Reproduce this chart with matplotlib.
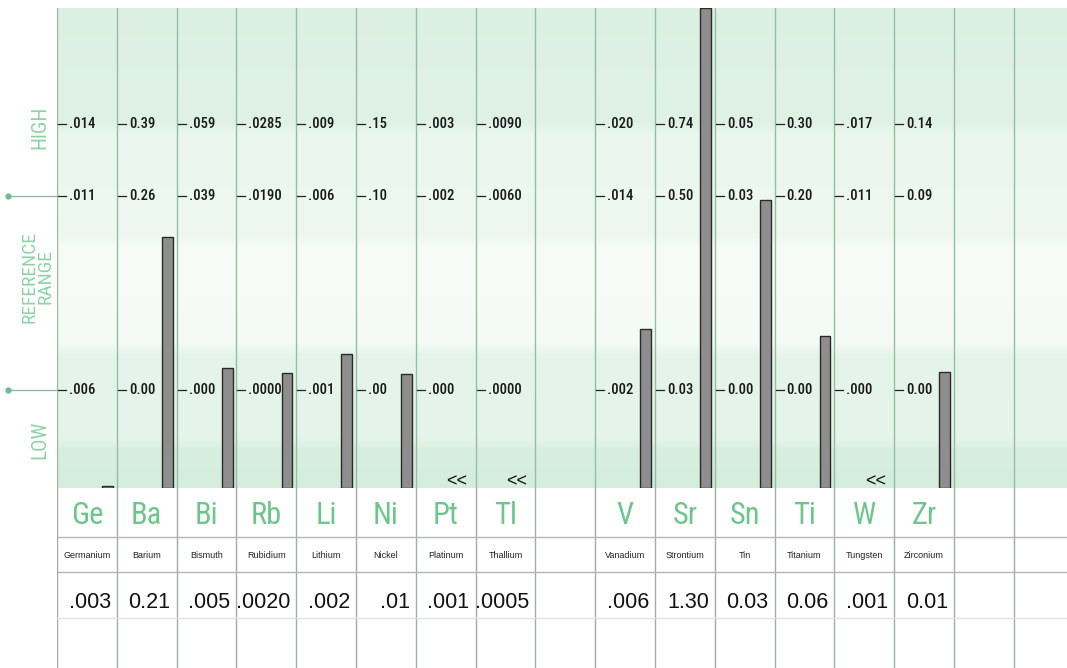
import matplotlib
matplotlib.use("Agg")
import matplotlib.pyplot as plt
from matplotlib import font_manager
from matplotlib.colors import LinearSegmentedColormap
import numpy as np

# element columns (index 8 is an empty column in the report)
symbols = ["Ge", "Ba", "Bi", "Rb", "Li", "Ni", "Pt", "Tl", "", "V", "Sr", "Sn", "Ti", "W", "Zr"]
names = ["Germanium", "Barium", "Bismuth", "Rubidium", "Lithium", "Nickel", "Platinum", "Thallium", "",
         "Vanadium", "Strontium", "Tin", "Titanium", "Tungsten", "Zirconium"]
results = [".003", "0.21", ".005", ".0020", ".002", ".01", ".001", ".0005", "",
           ".006", "1.30", "0.03", "0.06", ".001", "0.01"]
high_lbl = [".014", "0.39", ".059", ".0285", ".009", ".15", ".003", ".0090", "",
            ".020", "0.74", "0.05", "0.30", ".017", "0.14"]
upper_lbl = [".011", "0.26", ".039", ".0190", ".006", ".10", ".002", ".0060", "",
             ".014", "0.50", "0.03", "0.20", ".011", "0.09"]
low_lbl = [".006", "0.00", ".000", ".0000", ".001", ".00", ".000", ".0000", "",
           ".002", "0.03", "0.00", "0.00", ".000", "0.00"]
# bar height on the chart's 0-100 display scale, None = below detection ("<<")
scores = [0.4, 52.3, 25.0, 24.0, 27.9, 23.8, None, None, np.nan,
          33.1, 100, 60.0, 31.7, None, 24.2]

HIGH_Y, UPPER_Y, LOW_Y = 75.8, 60.8, 20.4
n_cols = 16.89  # visible columns incl. blank ones at the right
col_px = 59.8

avail = {f.name for f in font_manager.fontManager.ttflist}
cond = "Roboto Condensed" if "Roboto Condensed" in avail else "DejaVu Sans"
regular = "Liberation Sans" if "Liberation Sans" in avail else "DejaVu Sans"

green_txt = "#6fc48c"
label_green = "#8fd2a6"
vline_c = "#96bda3"

fig = plt.figure(figsize=(10.67, 6.68), dpi=100)
W, H = 1067, 668

ax = fig.add_axes([57 / W, (H - 488) / H, 1010 / W, 480 / H])
tb = fig.add_axes([57 / W, 0, 1010 / W, 180 / H])

# background band
cmap = LinearSegmentedColormap.from_list("bg", [
    (0.0, "#d4eddc"), (0.08, "#d8efe0"), (0.10, "#e4f4ea"), (0.28, "#e6f5eb"),
    (0.30, "#f4faf6"), (0.50, "#f8fcf9"), (0.52, "#eef8f1"), (0.74, "#eaf6ee"),
    (0.76, "#e0f2e6"), (1.0, "#dbf0e2")])
grad = np.linspace(0, 1, 256).reshape(-1, 1)
ax.imshow(grad, aspect="auto", cmap=cmap, extent=[0, n_cols, 0, 100], origin="lower", zorder=0)

ax.set_xlim(0, n_cols)
ax.set_ylim(0, 100)
ax.axis("off")

for i in range(17):
    ax.axvline(i, color=vline_c, lw=1.0, zorder=1)

# tick labels per column
for i, (h, u, l) in enumerate(zip(high_lbl, upper_lbl, low_lbl)):
    if not h:
        continue
    for yv, t in ((HIGH_Y, h), (UPPER_Y, u), (LOW_Y, l)):
        ax.plot([i + 1 / col_px, i + 9 / col_px], [yv, yv], color="#222222", lw=0.9, zorder=3)
        ax.text(i + 12 / col_px, yv, t, fontsize=10.5, family=cond, weight=500, color="#1a1a1a",
                ha="left", va="center", zorder=3)

# bars
bar_x = []
bar_h = []
for i, s in enumerate(scores):
    if s is not None and not np.isnan(s):
        bar_x.append(i + 0.845)
        bar_h.append(s)
ax.bar(bar_x, bar_h, width=0.18, color="#8e8e8e", edgecolor="#2a2a2a", linewidth=1.0, zorder=4)

for i, s in enumerate(scores):
    if s is None:
        ax.text(i + 0.69, 1.3, "<<", fontsize=13, family=regular, color="#111111",
                ha="center", va="center", zorder=4)

# reference markers at the left
x0 = -49 / col_px
for yv in (UPPER_Y, LOW_Y):
    ax.plot([x0, 0], [yv, yv], color="#8db59b", lw=0.9, clip_on=False, zorder=3)
    ax.plot([x0], [yv], "o", ms=3.5, color="#6dbd8c", clip_on=False, zorder=3)

lx = -17 / col_px
ax.text(lx, 75.2, "HIGH", rotation=90, fontsize=15, family=cond, color=label_green,
        ha="center", va="center", clip_on=False)
ax.text(lx - 0.04, 44.0, "REFERENCE\nRANGE", rotation=90, fontsize=14, family=cond,
        color=label_green, ha="center", va="center", linespacing=0.85, clip_on=False)
ax.text(lx, 10.0, "LOW", rotation=90, fontsize=15, family=cond, color=label_green,
        ha="center", va="center", clip_on=False)

# table below the chart (y in pixels down from chart bottom)
tb.set_xlim(0, n_cols)
tb.set_ylim(180, 0)
tb.axis("off")
for i in range(17):
    tb.axvline(i, color="#a3aca6", lw=1.0)
tb.axhline(49, color="#b5b5b5", lw=1.0)
tb.axhline(84, color="#b5b5b5", lw=1.0)
tb.axhline(130, color="#e2e2e2", lw=1.0)

for i in range(len(symbols)):
    if symbols[i]:
        tb.text(i + 0.5, 27, symbols[i], fontsize=22, family=cond, color=green_txt,
                ha="center", va="center")
        tb.text(i + 0.5, 67, names[i], fontsize=6.5, family=regular, color="#222222",
                ha="center", va="center")
        tb.text(i + 1 - 6 / col_px, 114, results[i], fontsize=15.5, family=regular,
                color="#111111", ha="right", va="center")

fig.savefig("out.png", dpi=100, facecolor="white")
